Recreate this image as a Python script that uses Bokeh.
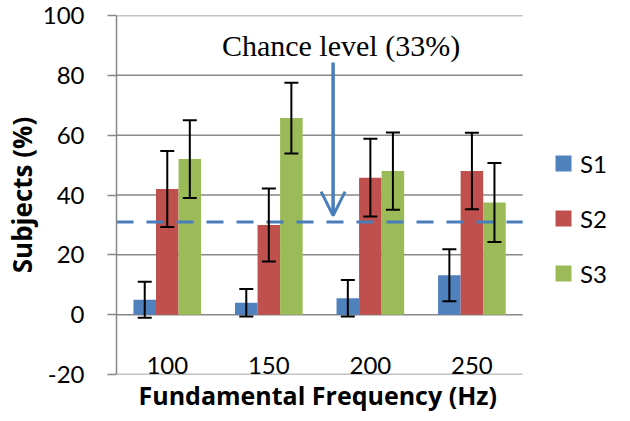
from bokeh.plotting import figure
from bokeh.models import (Range1d, Whisker, TeeHead, Arrow, OpenHead, Title,
                          Legend, LegendItem, ColumnDataSource, FixedTicker, Label)
from bokeh.transform import dodge
from bokeh.core.properties import value
from bokeh.embed import file_html
from bokeh.resources import INLINE

# ---- data ----
categories = ["100", "150", "200", "250"]
series = ["S1", "S2", "S3"]
s1 = [5.0, 4.0, 5.5, 13.2]
s2 = [42.0, 30.0, 45.8, 48.0]
s3 = [52.0, 65.7, 48.0, 37.5]
s1_err = [6.0, 4.6, 6.1, 8.7]
s2_err = [12.7, 12.2, 13.0, 12.8]
s3_err = [13.0, 11.8, 12.9, 13.2]
chance_level = 31
y_ticks = [-20, 0, 20, 40, 60, 80, 100]
chance_text = "Chance level (33%)"
x_title = "Fundamental Frequency (Hz)"
y_title = "Subjects (%)"

colors = ["#4F81BD", "#C0504D", "#9BBB59"]
line_blue = "#4A7EBB"
grid_gray = "#888888"
FONT = "Lato"
TFONT = "Open Sans"

n = len(categories)
vals = [s1, s2, s3]
errs = [s1_err, s2_err, s3_err]
data = dict(cat=categories, xc=[i + 0.5 for i in range(n)])
for name, v, e in zip(series, vals, errs):
    data[name] = v
    data[name + "_lo"] = [a - b for a, b in zip(v, e)]
    data[name + "_hi"] = [a + b for a, b in zip(v, e)]
src = ColumnDataSource(data)
grid_src = ColumnDataSource(dict(y=y_ticks, x0=[0] * len(y_ticks), x1=[n] * len(y_ticks)))

W, H = 614, 413
LEFT, TOP, BOTTOM = 115, 15, 39
CAT_W = 407  # pixel width of the category area
# frame runs to the right edge so the legend (inside the frame) is not clipped
p = figure(x_range=Range1d(0, n * (W - LEFT) / CAT_W), y_range=Range1d(-20, 100),
           width=W, height=H, output_backend="svg", toolbar_location=None,
           min_border_left=LEFT, min_border_right=0, min_border_top=TOP,
           min_border_bottom=BOTTOM)
p.outline_line_color = None
p.background_fill_color = "white"
p.border_fill_color = "white"
p.xaxis.visible = False
p.xgrid.grid_line_color = None
p.ygrid.grid_line_color = None

# horizontal gridlines across the category area only
p.segment(x0="x0", x1="x1", y0="y", y1="y", source=grid_src,
          line_color=grid_gray, line_width=1.5)

bw = 0.222
offsets = [-bw, 0.0, bw]
items = []
for name, off, col in zip(series, offsets, colors):
    r = p.vbar(x=dodge("xc", off), top=name, width=bw, source=src,
               fill_color=col, line_color=None)
    items.append(LegendItem(label=name, renderers=[r]))
    w = Whisker(source=src, base=dodge("xc", off),
                lower=name + "_lo", upper=name + "_hi", dimension="height",
                line_color="black", line_width=2, level="overlay",
                upper_head=TeeHead(size=14, line_color="black", line_width=2),
                lower_head=TeeHead(size=14, line_color="black", line_width=2))
    p.add_layout(w)

# chance level dashed line + arrow + text
p.segment(x0=0, x1=n, y0=chance_level, y1=chance_level, line_color=line_blue,
          line_width=3, line_dash="17 13")
p.add_layout(Arrow(end=OpenHead(size=24, line_color=line_blue, line_width=3),
                   x_start=2.133, y_start=84.3, x_end=2.133, y_end=33.1,
                   line_color=line_blue, line_width=3.5))
p.add_layout(Label(x=2.211, y=90.0, text=chance_text, text_align="center",
                   text_baseline="alphabetic", text_font="Liberation Serif",
                   text_font_size="30px", text_color="black"))

# category labels inside the frame
p.text(x="xc", y=-17, text="cat", source=src, text_align="center",
       text_baseline="alphabetic", text_font=value(FONT), text_font_size="24px",
       text_color="black")

# y axis
p.yaxis.ticker = FixedTicker(ticks=y_ticks)
p.yaxis.major_label_overrides = {-20: "-20"}
p.yaxis.axis_label = y_title
p.yaxis.axis_label_text_font = TFONT
p.yaxis.axis_label_text_font_style = "bold"
p.yaxis.axis_label_text_font_size = "26px"
p.yaxis.axis_label_text_color = "black"
p.yaxis.axis_label_standoff = 0
p.yaxis.major_label_text_font = FONT
p.yaxis.major_label_text_font_size = "24px"
p.yaxis.major_label_text_color = "black"
p.yaxis.major_label_standoff = 23
p.yaxis.axis_line_color = grid_gray
p.yaxis.axis_line_width = 1.5
p.yaxis.major_tick_line_color = grid_gray
p.yaxis.major_tick_line_width = 1.5
p.yaxis.major_tick_out = 9
p.yaxis.major_tick_in = 0
p.yaxis.minor_tick_line_color = None

# x title below, aligned with the category area
p.add_layout(Title(text=x_title, align="left", offset=22, standoff=3,
                   text_font=TFONT, text_font_style="bold", text_font_size="25px",
                   text_color="black"), "below")

legend = Legend(items=items, location=(437, 84), glyph_width=20, glyph_height=20,
                label_height=34, label_standoff=7, spacing=21, padding=0, margin=0,
                label_text_font=FONT, label_text_font_size="24px",
                label_text_color="black", border_line_color=None,
                background_fill_alpha=0)
p.add_layout(legend, "center")

open("out.html", "w").write(file_html(p, INLINE))
